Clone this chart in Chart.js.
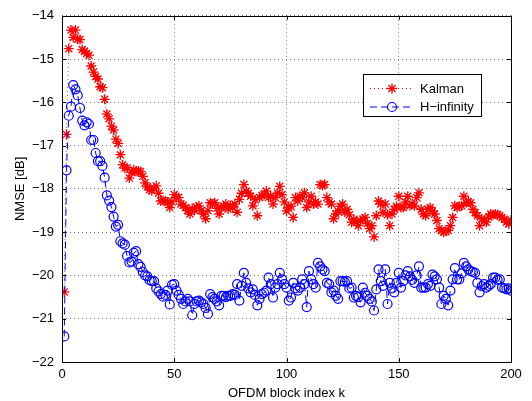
<!DOCTYPE html>
<html>
<head>
<meta charset="utf-8">
<script src="https://cdn.jsdelivr.net/npm/chart.js@4.4.1/dist/chart.umd.min.js"></script>
<style>
  html, body { margin: 0; padding: 0; background: #fff; }
  #wrap { width: 532px; height: 401px; }
</style>
</head>
<body>
<div id="wrap"><canvas id="nmse-chart" width="532" height="401"></canvas></div>
<script>
// OFDM block index k = 1..200
const blockIndex = Array.from({ length: 200 }, (_, i) => i + 1);

// NMSE [dB], Kalman estimator
const kalman = [
  -20.38, -16.74, -14.76, -14.33, -14.50, -14.33, -14.54, -14.55, -14.78, -14.82,
  -14.87, -14.91, -15.16, -15.30, -15.40, -15.46, -15.64, -15.66, -15.93, -16.27,
  -16.38, -16.55, -16.64, -16.85, -16.95, -17.21, -17.44, -17.52, -17.51, -17.75,
  -17.62, -17.56, -17.60, -17.59, -17.60, -17.71, -17.86, -17.95, -18.02, -18.04,
  -17.98, -17.93, -18.10, -18.28, -18.27, -18.28, -18.30, -18.43, -18.30, -18.13,
  -18.20, -18.20, -18.35, -18.38, -18.43, -18.50, -18.58, -18.45, -18.50, -18.42,
  -18.39, -18.50, -18.58, -18.69, -18.50, -18.32, -18.35, -18.32, -18.45, -18.58,
  -18.43, -18.40, -18.35, -18.47, -18.39, -18.42, -18.35, -18.54, -18.24, -18.10,
  -17.90, -18.05, -18.10, -18.17, -18.39, -18.25, -18.62, -18.20, -18.15, -18.13,
  -18.05, -18.20, -18.17, -18.35, -18.20, -18.10, -17.94, -18.13, -18.30, -18.51,
  -18.43, -18.40, -18.66, -18.20, -18.28, -18.17, -18.20, -18.09, -18.43, -18.30,
  -18.17, -18.35, -18.30, -18.35, -17.90, -17.92, -17.90, -18.20, -18.30, -18.35,
  -18.69, -18.58, -18.51, -18.40, -18.35, -18.54, -18.47, -18.60, -18.77, -18.70,
  -18.77, -18.85, -18.73, -18.70, -18.66, -18.80, -18.92, -18.85, -19.11, -18.62,
  -18.28, -18.35, -18.54, -18.35, -18.60, -18.85, -18.58, -18.47, -18.40, -18.17,
  -18.43, -18.43, -18.30, -18.17, -18.39, -18.35, -18.39, -18.20, -18.09, -18.47,
  -18.58, -18.62, -18.47, -18.43, -18.51, -18.58, -18.73, -18.92, -18.96, -19.00,
  -18.98, -18.96, -18.85, -18.66, -18.39, -18.43, -18.40, -18.39, -18.17, -18.32,
  -18.30, -18.32, -18.47, -18.55, -18.62, -18.85, -18.69, -18.75, -18.77, -18.65,
  -18.58, -18.60, -18.58, -18.60, -18.62, -18.66, -18.70, -18.77, -18.81, -18.72
];

// NMSE [dB], H-infinity estimator
const hInfinity = [
  -21.41, -17.57, -16.31, -16.10, -15.60, -15.70, -15.84, -16.13, -16.42, -16.53,
  -16.46, -16.50, -16.87, -16.87, -17.17, -17.36, -17.36, -17.47, -17.74, -18.15,
  -18.27, -18.42, -18.64, -18.87, -18.83, -19.21, -19.26, -19.29, -19.55, -19.70,
  -19.68, -19.48, -19.44, -19.74, -19.80, -19.92, -20.00, -20.02, -20.11, -20.13,
  -20.13, -20.30, -20.37, -20.43, -20.49, -20.45, -20.35, -20.67, -20.22, -20.20,
  -20.35, -20.45, -20.54, -20.66, -20.60, -20.54, -20.60, -20.92, -20.66, -20.60,
  -20.58, -20.62, -20.66, -20.75, -20.89, -20.43, -20.50, -20.54, -20.60, -20.69,
  -20.47, -20.47, -20.50, -20.47, -20.47, -20.43, -20.45, -20.20, -20.58, -20.24,
  -19.94, -20.17, -20.30, -20.39, -20.32, -20.45, -20.69, -20.54, -20.43, -20.40,
  -20.35, -20.05, -20.20, -20.51, -20.28, -20.20, -19.94, -20.09, -20.20, -20.28,
  -20.58, -20.51, -20.17, -20.30, -20.35, -20.28, -20.09, -20.20, -20.73, -19.90,
  -20.09, -20.20, -20.28, -19.71, -19.79, -19.86, -19.90, -20.17, -20.20, -20.39,
  -20.35, -20.47, -20.54, -20.13, -20.13, -20.15, -20.13, -20.30, -20.28, -20.51,
  -20.47, -20.50, -20.62, -20.28, -20.40, -20.47, -20.54, -20.60, -20.81, -20.32,
  -19.86, -20.13, -20.24, -19.86, -20.66, -20.17, -20.30, -20.39, -20.17, -19.94,
  -20.28, -20.13, -20.00, -19.90, -20.02, -20.10, -20.17, -20.00, -19.79, -20.28,
  -20.28, -20.28, -20.20, -20.24, -19.98, -20.02, -20.09, -20.28, -20.66, -20.47,
  -20.54, -20.69, -20.35, -20.09, -19.83, -20.09, -20.09, -19.95, -19.71, -19.79,
  -19.86, -19.90, -19.92, -19.94, -20.17, -20.39, -20.25, -20.20, -20.28, -20.24,
  -20.20, -20.05, -20.05, -20.10, -20.09, -20.28, -20.30, -20.32, -20.30, -20.35
];

const xTicks = [0, 50, 100, 150, 200];
const yTicks = [-22, -21, -20, -19, -18, -17, -16, -15, -14];

const FONT = 'Liberation Sans, Arial, Helvetica, sans-serif';
const minus = v => (v < 0 ? '\u2212' : '') + Math.abs(v);

const legendItems = [
  { text: 'Kalman', color: '#ff0000', dash: [1, 3], style: 'star', radius: 5, width: 1.3 },
  { text: 'H\u2212infinity', color: '#0000ff', dash: [7, 4], style: 'circle', radius: 4.5, width: 1.2 }
];

// white background, box around the axes, inward ticks and the legend
const matlabLook = {
  id: 'matlabLook',
  beforeDraw(chart) {
    const ctx = chart.ctx;
    ctx.save();
    ctx.fillStyle = '#fff';
    ctx.fillRect(0, 0, chart.width, chart.height);
    ctx.restore();
  },
  afterDraw(chart) {
    const { ctx, chartArea: a, scales } = chart;
    ctx.save();
    ctx.strokeStyle = '#000';
    ctx.lineWidth = 1;
    ctx.setLineDash([]);
    ctx.strokeRect(Math.round(a.left) + 0.5, Math.round(a.top) + 0.5,
      Math.round(a.right - a.left), Math.round(a.bottom - a.top));

    ctx.beginPath();
    xTicks.forEach(t => {
      const x = Math.round(scales.x.getPixelForValue(t)) + 0.5;
      ctx.moveTo(x, a.bottom); ctx.lineTo(x, a.bottom - 4);
      ctx.moveTo(x, a.top); ctx.lineTo(x, a.top + 4);
    });
    yTicks.forEach(t => {
      const y = Math.round(scales.y.getPixelForValue(t)) + 0.5;
      ctx.moveTo(a.left, y); ctx.lineTo(a.left + 4, y);
      ctx.moveTo(a.right, y); ctx.lineTo(a.right - 4, y);
    });
    ctx.stroke();

    // legend
    const bx = 363.5, by = 74.5, bw = 118, bh = 42;
    ctx.fillStyle = '#fff';
    ctx.fillRect(bx, by, bw, bh);
    ctx.strokeRect(bx, by, bw, bh);
    ctx.font = '13px ' + FONT;
    ctx.textBaseline = 'middle';
    ctx.textAlign = 'left';
    legendItems.forEach((item, i) => {
      const y = by + 14 + i * 18.5;
      ctx.strokeStyle = item.color;
      ctx.lineWidth = 1;
      ctx.setLineDash(item.dash);
      ctx.beginPath();
      ctx.moveTo(370, y); ctx.lineTo(412, y);
      ctx.stroke();
      ctx.setLineDash([]);
      ctx.lineWidth = item.width;
      ctx.fillStyle = 'rgba(0,0,0,0)';
      Chart.helpers.drawPoint(ctx, { pointStyle: item.style, radius: item.radius, rotation: 0, borderWidth: item.width }, 392, y);
      ctx.fillStyle = '#000';
      ctx.fillText(item.text, 420, y + 0.5);
    });
    ctx.restore();
  }
};

const ctx = document.getElementById('nmse-chart').getContext('2d');
const nmseChart = new Chart(ctx, {
  type: 'line',
  data: {
    datasets: [{
      label: 'H\u2212infinity',
      data: blockIndex.map((k, i) => ({ x: k, y: hInfinity[i] })),
      borderColor: '#0000ff',
      backgroundColor: 'rgba(0,0,0,0)',
      borderWidth: 1,
      borderDash: [7, 4],
      pointStyle: 'circle',
      pointRadius: 4.5,
      pointBorderWidth: 1.2,
      pointBorderColor: '#0000ff',
      pointBackgroundColor: 'rgba(0,0,0,0)',
      tension: 0
    }, {
      label: 'Kalman',
      data: blockIndex.map((k, i) => ({ x: k, y: kalman[i] })),
      borderColor: 'rgba(255,0,0,0.8)',
      backgroundColor: 'rgba(0,0,0,0)',
      borderWidth: 1,
      borderDash: [1, 3],
      pointStyle: 'star',
      pointRadius: 5,
      pointBorderWidth: 1.3,
      pointBorderColor: '#ff0000',
      tension: 0
    }]
  },
  options: {
    responsive: false,
    animation: false,
    devicePixelRatio: 1,
    layout: { padding: { top: 8, right: 21, left: 0, bottom: 0 } },
    scales: {
      x: {
        type: 'linear',
        min: 0,
        max: 200,
        afterFit: scale => { scale.height = 39; },
        afterBuildTicks: scale => { scale.ticks = xTicks.map(v => ({ value: v })); },
        ticks: { color: '#000', padding: 5, maxRotation: 0, font: { family: FONT, size: 13 }, callback: v => minus(v) },
        grid: { color: 'rgba(0,0,0,0.55)', drawTicks: false, lineWidth: 1 },
        border: { display: false, dash: [1, 3] },
        title: { display: true, text: 'OFDM block index k', color: '#000', font: { family: FONT, size: 13 }, padding: { top: 0, bottom: 0 } }
      },
      y: {
        type: 'linear',
        min: -22,
        max: -14,
        afterFit: scale => { scale.width = 62; },
        afterBuildTicks: scale => { scale.ticks = yTicks.map(v => ({ value: v })); },
        ticks: { color: '#000', padding: 8, font: { family: FONT, size: 13 }, callback: v => minus(v) },
        grid: { color: 'rgba(0,0,0,0.55)', drawTicks: false, lineWidth: 1 },
        border: { display: false, dash: [1, 3] },
        title: { display: true, text: 'NMSE [dB]', color: '#000', font: { family: FONT, size: 13 }, padding: { top: 13, bottom: 0 } }
      }
    },
    plugins: {
      legend: { display: false },
      tooltip: { enabled: false }
    }
  },
  plugins: [matlabLook]
});
</script>
</body>
</html>
